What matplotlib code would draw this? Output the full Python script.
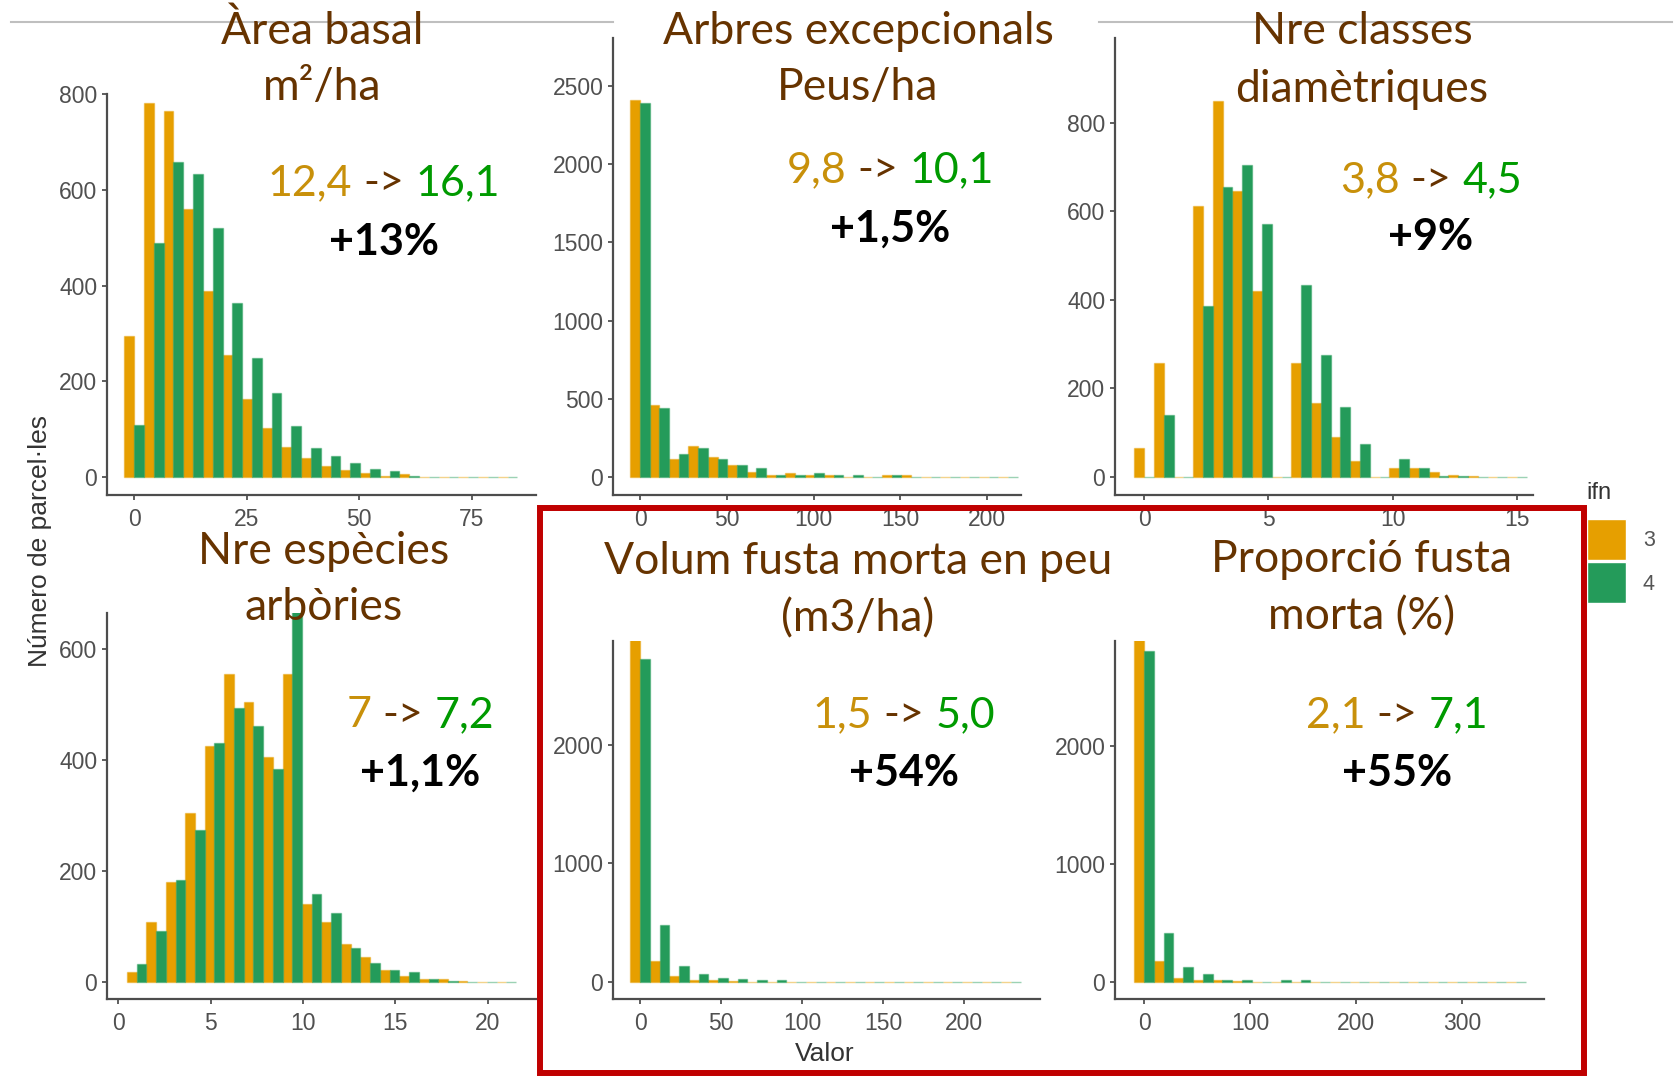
import numpy as np
import matplotlib.pyplot as plt
from matplotlib.offsetbox import TextArea, HPacker, AnnotationBbox
from matplotlib.patches import Rectangle
from matplotlib.lines import Line2D

W, H = 1681, 1076

C3 = '#E69F00'
C4 = '#249B5A'
BROWN = '#663300'
GOLD = '#C8900A'
GREEN = '#009A00'
AXIS = '#4D4D4D'

# histogram counts (20 bins, first/last bin centred on the data range)
area_range = (0, 83)
area_ifn3 = [294, 781, 765, 560, 389, 256, 163, 102, 64, 40, 23, 16, 8, 3, 6, 1, 1, 0, 0, 0]
area_ifn4 = [110, 489, 658, 632, 521, 363, 249, 175, 106, 61, 44, 30, 18, 14, 2, 1, 1, 0, 0, 1]

arbres_range = (0, 212)
arbres_ifn3 = [2408, 458, 113, 198, 128, 77, 32, 10, 28, 12, 12, 3, 3, 10, 10, 1, 1, 0, 0, 0]
arbres_ifn4 = [2393, 443, 149, 188, 113, 77, 55, 12, 15, 28, 12, 10, 1, 10, 1, 1, 1, 0, 0, 1]

classes_range = (0, 15)
classes_ifn3 = [66, 257, 0, 613, 850, 646, 420, 0, 257, 166, 90, 36, 0, 20, 20, 10, 5, 1, 0, 0]
classes_ifn4 = [0, 140, 0, 386, 655, 704, 572, 0, 433, 275, 157, 74, 0, 40, 20, 2, 2, 0, 0, 0]

especies_range = (1, 21)
especies_ifn3 = [17, 107, 180, 304, 424, 554, 504, 404, 554, 140, 107, 68, 44, 21, 11, 5, 5, 1, 0, 0]
especies_ifn4 = [32, 91, 184, 273, 430, 493, 461, 384, 690, 158, 124, 61, 34, 21, 17, 5, 1, 0, 0, 0]

volum_range = (0, 229)
volum_ifn3 = [3000, 174, 49, 20, 20, 5, 3, 3, 1, 1, 1, 0, 0, 0, 0, 0, 0, 0, 0, 0]
volum_ifn4 = [2725, 478, 136, 67, 38, 23, 15, 15, 1, 1, 0, 0, 0, 0, 0, 0, 0, 0, 0, 0]

prop_range = (0, 351)
prop_ifn3 = [3000, 174, 35, 20, 14, 8, 3, 3, 1, 1, 0, 0, 0, 0, 0, 0, 0, 0, 0, 0]
prop_ifn4 = [2803, 412, 130, 64, 20, 15, 3, 15, 15, 1, 0, 0, 0, 0, 0, 0, 0, 0, 0, 0]

titles = [["Àrea basal", "m²/ha"], ["Arbres excepcionals", "Peus/ha"],
          ["Nre classes", "diamètriques"], ["Nre espècies", "arbòries"],
          ["Volum fusta morta en peu", "(m3/ha)"], ["Proporció fusta", "morta (%)"]]
mean_ifn3 = ["12,4", "9,8", "3,8", "7", "1,5", "2,1"]
mean_ifn4 = ["16,1", "10,1", "4,5", "7,2", "5,0", "7,1"]
change = ["+13%", "+1,5%", "+9%", "+1,1%", "+54%", "+55%"]

# panel layout in pixels: (left, top, right, bottom), xlim, ylim, xticks, yticks
panels = [
    (area_range, area_ifn3, area_ifn4, (107, 94, 536, 495), (-6.0, 89.3), (-37, 800),
     [0, 25, 50, 75], [0, 200, 400, 600, 800]),
    (arbres_range, arbres_ifn3, arbres_ifn4, (613, 38, 1021, 495), (-15.6, 219.5), (-115, 2807),
     [0, 50, 100, 150, 200], [0, 500, 1000, 1500, 2000, 2500]),
    (classes_range, classes_ifn3, classes_ifn4, (1115, 38, 1533, 495), (-1.17, 15.64), (-41, 992),
     [0, 5, 10, 15], [0, 200, 400, 600, 800]),
    (especies_range, especies_ifn3, especies_ifn4, (107, 613, 536, 999), (-0.6, 22.6), (-31, 664),
     [0, 5, 10, 15, 20], [0, 200, 400, 600]),
    (volum_range, volum_ifn3, volum_ifn4, (613, 641, 1040, 999), (-16.7, 246.9), (-143, 2875),
     [0, 50, 100, 150, 200], [0, 1000, 2000]),
    (prop_range, prop_ifn3, prop_ifn4, (1115, 641, 1544, 999), (-27.4, 377.4), (-144, 2890),
     [0, 100, 200, 300], [0, 1000, 2000]),
]
title_pos = [(322, 31, 87), (858, 31, 87), (1362, 31, 89),
             (324, 551, 607), (858, 562, 619), (1362, 559, 617)]
note_pos = [(384, 183, 242), (890, 170, 229), (1431, 180, 237),
            (420, 715, 773), (904, 715, 773), (1397, 715, 773)]

fig = plt.figure(figsize=(W / 100, H / 100), dpi=100)


def frac(x, y):
    return x / W, 1 - y / H


for (rng, c3, c4, box, xl, yl, xt, yt) in panels:
    left, top, right, bottom = box
    ax = fig.add_axes([left / W, 1 - bottom / H, (right - left) / W, (bottom - top) / H])
    centers = np.linspace(rng[0], rng[1], len(c3))
    w = centers[1] - centers[0]
    ax.bar(centers - w / 4, c3, width=w / 2, color=C3, edgecolor=(0.9, 0.62, 0, 0.45), linewidth=1.0)
    ax.bar(centers + w / 4, c4, width=w / 2, color=C4, edgecolor=(0.14, 0.61, 0.35, 0.45), linewidth=1.0)
    ax.set_xlim(*xl)
    ax.set_ylim(*yl)
    ax.set_xticks(xt)
    ax.set_yticks(yt)
    for s in ['top', 'right']:
        ax.spines[s].set_visible(False)
    for s in ['left', 'bottom']:
        ax.spines[s].set_color(AXIS)
        ax.spines[s].set_linewidth(1.6)
    ax.tick_params(length=3.5, width=1.1, color='#333333', pad=3.5, labelcolor='#505050', labelsize=16.5)
    ax.tick_params(axis='x', pad=5.5)
    for lab in ax.get_xticklabels() + ax.get_yticklabels():
        lab.set_family('Liberation Sans')
    ax.patch.set_alpha(0)

for lines, (cx, y1, y2) in zip(titles, title_pos):
    for txt, yy in zip(lines, (y1, y2)):
        fig.text(*frac(cx, yy), txt, ha='center', va='center', fontsize=32,
                 family='Lato', color=BROWN)

for a, b, pct, (cx, y1, y2) in zip(mean_ifn3, mean_ifn4, change, note_pos):
    props = dict(fontsize=31, family='Lato')
    pack = HPacker(children=[TextArea(a, textprops=dict(color=GOLD, **props)),
                             TextArea("->", textprops=dict(color=BROWN, **props)),
                             TextArea(b, textprops=dict(color=GREEN, **props))],
                   align='baseline', pad=0, sep=8)
    ab = AnnotationBbox(pack, frac(cx, y1), xycoords='figure fraction', frameon=False,
                        box_alignment=(0.5, 0.5), pad=0)
    fig.add_artist(ab)
    fig.text(*frac(cx, y2), pct, ha='center', va='center', fontsize=31, family='Lato',
             weight='bold', color='black')

# axis titles
fig.text(*frac(40, 541), "Número de parcel·les", rotation=90, ha='center', va='center',
         fontsize=19, family='Liberation Sans', color='#333333')
fig.text(*frac(825, 1054), "Valor", ha='center', va='center',
         fontsize=19, family='Liberation Sans', color='#333333')

# legend
fig.text(*frac(1586, 493), "ifn", ha='left', va='center', fontsize=17,
         family='Liberation Sans', color='#333333')
for i, (col, lab) in enumerate([(C3, "3"), (C4, "4")]):
    x0, y0 = frac(1587, 560 + 43 * i)
    fig.add_artist(Rectangle((x0, y0), 39 / W, 41 / H, transform=fig.transFigure,
                             facecolor=col, edgecolor='white', linewidth=1))
    fig.text(*frac(1643, 541 + 43 * i), lab, ha='left', va='center', fontsize=15.5,
             family='Liberation Sans', color='#555555')

# screenshot leftovers: top rules and the red highlight frame
for x_a, x_b in [(11, 613), (1099, 1672)]:
    fig.add_artist(Line2D([x_a / W, x_b / W], [1 - 21.5 / H] * 2, transform=fig.transFigure,
                          color='#BFBFBF', linewidth=1.5))
fig.add_artist(Rectangle(frac(540, 1073), 1044 / W, 565 / H, transform=fig.transFigure,
                         fill=False, edgecolor='#C00000', linewidth=4.3, zorder=10))

fig.savefig('out.png', dpi=100, facecolor='white')
